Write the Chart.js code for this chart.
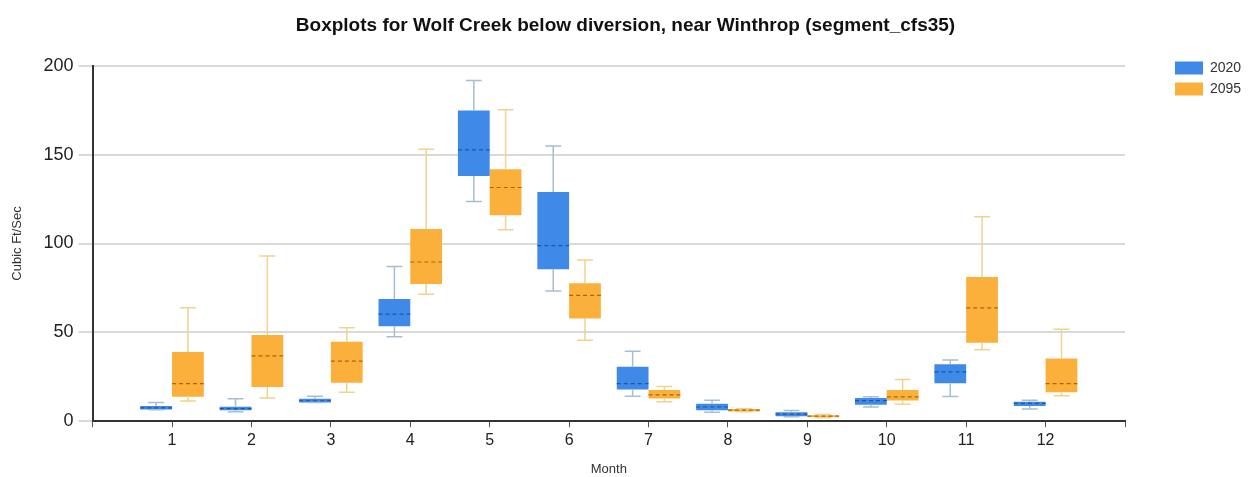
<!DOCTYPE html>
<html lang="en">
<head>
  <meta charset="UTF-8">
  <title>Boxplots for Wolf Creek below diversion</title>
  <script src="https://cdn.jsdelivr.net/npm/chart.js"></script>
  <style>
    body { margin: 0; background: #fff; }
    canvas { display: block; }
  </style>
</head>
<body>
  <canvas id="boxChart" width="1251" height="477"></canvas>

  <script>
    const months = [1, 2, 3, 4, 5, 6, 7, 8, 9, 10, 11, 12];
    const yTicks = [0, 50, 100, 150, 200];

    // 2020 stats per month: whisker low, q1, median, q3, whisker high
    const min2020 = [6.5, 5.3, 10.5, 47.5, 123.6, 73.2, 14.1, 5.1, 2.5, 8.0, 13.9, 6.8];
    const q1_2020 = [6.6, 6.2, 10.5, 53.5, 138.0, 85.5, 17.8, 6.2, 2.8, 9.2, 21.4, 8.6];
    const med2020 = [7.5, 7.1, 11.5, 60.3, 152.7, 98.8, 21.2, 8.0, 4.0, 11.6, 27.8, 10.0];
    const q3_2020 = [8.6, 8.1, 12.6, 68.7, 174.8, 129.0, 30.6, 9.8, 5.1, 13.0, 32.1, 10.9];
    const max2020 = [10.5, 12.6, 14.1, 87.1, 191.7, 154.8, 39.4, 11.8, 6.0, 13.7, 34.4, 11.8];

    // 2095 stats per month
    const min2095 = [11.3, 13.1, 16.3, 71.5, 107.8, 45.6, 10.9, 5.3, 2.0, 9.6, 40.2, 14.3];
    const q1_2095 = [13.7, 19.3, 21.6, 77.2, 115.9, 57.8, 12.8, 5.5, 2.2, 11.6, 44.1, 16.3];
    const med2095 = [21.2, 36.8, 33.8, 89.6, 131.5, 70.8, 14.8, 6.2, 2.8, 13.7, 63.8, 21.2];
    const q3_2095 = [39.0, 48.5, 44.7, 108.2, 141.8, 77.6, 17.5, 6.8, 3.4, 17.5, 81.1, 35.3];
    const max2095 = [63.8, 93.0, 52.6, 153.0, 175.2, 90.7, 19.5, 7.0, 3.8, 23.5, 115.1, 51.7];

    const series = [
      { label: "2020", min: min2020, q1: q1_2020, med: med2020, q3: q3_2020, max: max2020,
        fill: "#3f8ae8", whisker: "#a6bdd3", median: "#1d56a3" },
      { label: "2095", min: min2095, q1: q1_2095, med: med2095, q3: q3_2095, max: max2095,
        fill: "#fbb03b", whisker: "#efd38e", median: "#a8650f" }
    ];

    // whiskers, caps and dashed medians on top of the floating bars
    const boxExtras = {
      id: "boxExtras",
      afterDatasetsDraw(chart) {
        const ctx = chart.ctx;
        const y = chart.scales.y;
        chart.data.datasets.forEach((ds, di) => {
          const s = series[di];
          chart.getDatasetMeta(di).data.forEach((bar, i) => {
            const x = bar.x;
            const w = bar.width;
            const top = y.getPixelForValue(s.q3[i]);
            const bot = y.getPixelForValue(s.q1[i]);
            const hi = y.getPixelForValue(s.max[i]);
            const lo = y.getPixelForValue(s.min[i]);
            ctx.save();
            ctx.strokeStyle = s.whisker;
            ctx.lineWidth = 1.5;
            ctx.beginPath();
            ctx.moveTo(x, top); ctx.lineTo(x, hi);
            ctx.moveTo(x - w / 4, hi); ctx.lineTo(x + w / 4, hi);
            ctx.moveTo(x, bot); ctx.lineTo(x, lo);
            ctx.moveTo(x - w / 4, lo); ctx.lineTo(x + w / 4, lo);
            ctx.stroke();
            const m = y.getPixelForValue(s.med[i]);
            ctx.strokeStyle = s.median;
            ctx.lineWidth = 1.2;
            ctx.setLineDash([4, 3]);
            ctx.beginPath();
            ctx.moveTo(x - w / 2, m); ctx.lineTo(x + w / 2, m);
            ctx.stroke();
            ctx.restore();
          });
        });
      }
    };

    // put the legend next to the top of the plot, like the original
    const legendSpot = {
      id: "legendSpot",
      afterLayout(chart) {
        const lg = chart.legend;
        const w = lg.right - lg.left, h = lg.bottom - lg.top;
        lg.left = 1168; lg.right = lg.left + w;
        lg.top = 54; lg.bottom = lg.top + h;
      }
    };

    new Chart(document.getElementById("boxChart"), {
      type: "bar",
      data: {
        datasets: series.map(s => ({
          label: s.label,
          data: months.map((m, i) => ({ x: m, y: [s.q1[i], s.q3[i]] })),
          backgroundColor: s.fill,
          borderWidth: 0,
          categoryPercentage: 0.8,
          barPercentage: 1.0
        }))
      },
      options: {
        responsive: false,
        animation: false,
        events: [],
        layout: { padding: 0 },
        plugins: {
          title: {
            display: true,
            text: "Boxplots for Wolf Creek below diversion, near Winthrop (segment_cfs35)",
            color: "#111",
            font: { family: "Liberation Sans, Arial", size: 19, weight: "bold" },
            padding: { top: 14, bottom: 29 }
          },
          legend: {
            position: "right",
            align: "start",
            labels: {
              boxWidth: 28,
              boxHeight: 13,
              padding: 7,
              color: "#333",
              font: { family: "Liberation Sans, Arial", size: 14 }
            }
          },
          tooltip: { enabled: false }
        },
        scales: {
          x: {
            type: "linear",
            min: 0,
            max: 13,
            offset: false,
            afterFit: s => { s.paddingRight = 126; },
            ticks: {
              stepSize: 1,
              padding: 4,
              color: "#222",
              font: { family: "Liberation Sans, Arial", size: 16 },
              callback: v => (months.includes(v) ? String(v) : "")
            },
            grid: { offset: false, drawOnChartArea: false, drawTicks: true, tickLength: 6, color: "#555" },
            border: { display: true, color: "#333", width: 2 },
            title: {
              display: true,
              text: "Month",
              color: "#333",
              font: { family: "Liberation Sans, Arial", size: 13 },
              padding: { top: 7, bottom: 0 }
            }
          },
          y: {
            min: 0,
            max: 200,
            afterBuildTicks: axis => { axis.ticks = yTicks.map(v => ({ value: v })); },
            ticks: {
              color: "#222",
              padding: 5,
              font: { family: "Liberation Sans, Arial", size: 18 }
            },
            grid: { color: "#d9d9d9", lineWidth: 2, tickLength: 14 },
            border: { display: true, color: "#333", width: 2 },
            title: {
              display: true,
              text: "Cubic Ft/Sec",
              color: "#333",
              font: { family: "Liberation Sans, Arial", size: 13 },
              padding: { top: 10, bottom: 13 }
            }
          }
        }
      },
      plugins: [boxExtras, legendSpot]
    });
  </script>
</body>
</html>
